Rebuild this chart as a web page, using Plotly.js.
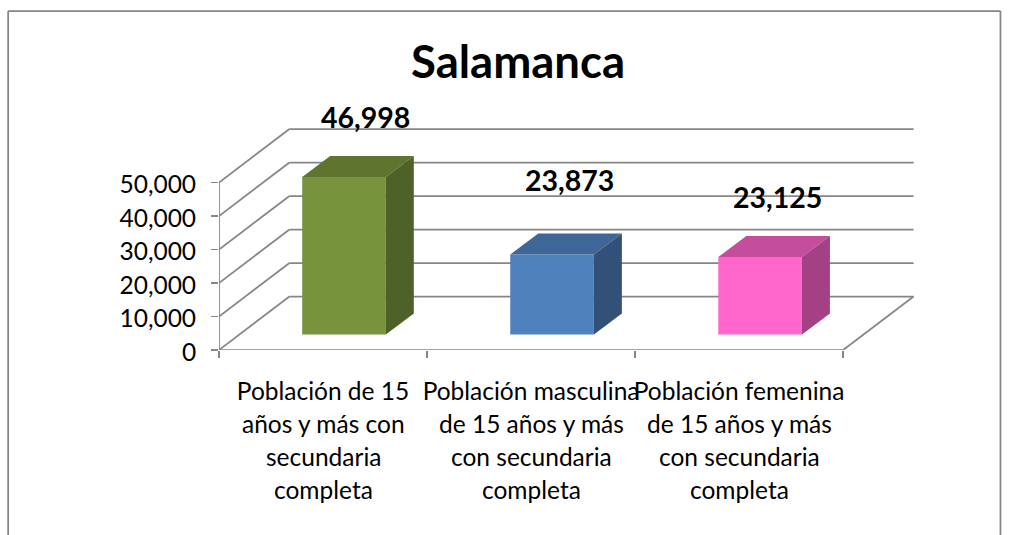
<!DOCTYPE html>
<html><head><meta charset="utf-8">
<script src="https://cdn.plot.ly/plotly-3.0.1.min.js"></script>
<style>html,body{margin:0;padding:0;background:#fff}#c{width:1013px;height:535px}</style>
</head><body><div id="c"></div>
<script>
const categoryLines = [
  ["Población de 15","años y más con","secundaria","completa"],
  ["Población masculina","de 15 años y más","con secundaria","completa"],
  ["Población femenina","de 15 años y más","con secundaria","completa"]
];
const values = [46998, 23873, 23125];
const valueLabels = ["46,998","23,873","23,125"];
const yTicks = [0,10000,20000,30000,40000,50000];
const yTickLabels = ["0","10,000","20,000","30,000","40,000","50,000"];
const frontColors = ["#77933C","#4F81BD","#FF66CC"];
const topColors = ["#5E742F","#3E6696","#C44E9C"];
const sideColors = ["#4E6126","#325078","#A44084"];

const W=1013,H=535, L=218.5,B=350, R=925,T=115;
const pxX=208.2, pxY=167.5/50000;
const X=p=>p/pxX, Y=p=>p/pxY;
const wallDX=X(70.5), wallDY=Y(53.5), depthDX=X(28), depthDY=Y(21);
const baseDX=X(21), baseDY=Y(15.5), barW=X(83.7);
const grey="#868686";
const seg=(x0,y0,x1,y1)=>({type:"line",layer:"below",xref:"x",yref:"y",x0,y0,x1,y1,line:{color:grey,width:1.75}});
const shapes=[];
yTicks.forEach(v=>{
  shapes.push(seg(0,v,wallDX,v+wallDY));
  shapes.push(seg(wallDX,v+wallDY,3+wallDX,v+wallDY));
});
shapes.push(seg(0,0,0,50000));
shapes.push(seg(0,0,3,0));
shapes.push(seg(3,0,3+wallDX,wallDY));
const px=p=>(p-L)/(R-L), py=p=>1-(p-T)/(B-T);
const frame=(a,b,c,d)=>({type:"line",xref:"paper",yref:"paper",x0:px(a),y0:py(b),x1:px(c),y1:py(d),line:{color:grey,width:1.75}});
shapes.push(frame(7.5,535,7.5,11),frame(7.5,11,1000.5,11),frame(1000.5,11,1000.5,535));

const centers=values.map((v,i)=>i+0.5+baseDX);
const traces=[{type:"bar",x:centers,y:values,base:baseDY,width:barW,marker:{color:frontColors,line:{width:0}},hoverinfo:"skip"}];
values.forEach((v,i)=>{
  const x0=centers[i]-barW/2,x1=centers[i]+barW/2,y0=baseDY,y1=baseDY+v;
  traces.push({type:"scatter",mode:"lines",fill:"toself",fillcolor:topColors[i],line:{width:0},hoverinfo:"skip",
    x:[x0,x1,x1+depthDX,x0+depthDX,x0],y:[y1,y1,y1+depthDY,y1+depthDY,y1]});
  traces.push({type:"scatter",mode:"lines",fill:"toself",fillcolor:sideColors[i],line:{width:0},hoverinfo:"skip",
    x:[x1,x1+depthDX,x1+depthDX,x1,x1],y:[y0,y0+depthDY,y1+depthDY,y1,y0]});
});

const FONT="Lato, 'Noto Sans', sans-serif";
const labelXShift=[21,17,17], labelYShift=[39,54,39];
const annotations=values.map((v,i)=>({xref:"x",yref:"y",x:centers[i],y:baseDY+v+depthDY,text:"<b>"+valueLabels[i]+"</b>",showarrow:false,
  font:{family:FONT,size:28.5,color:"#000"},xshift:labelXShift[i],yshift:labelYShift[i]}));
const lineY=[391,423,456,489];
categoryLines.forEach((ls,i)=>ls.slice(1).forEach((t,j)=>annotations.push({xref:"x",yref:"y",x:i+0.5,y:0,text:t,showarrow:false,
  font:{family:FONT,size:24.5,color:"#000"},yshift:B-lineY[j+1]})));

Plotly.newPlot("c",traces,{
  width:W,height:H,showlegend:false,paper_bgcolor:"#fff",plot_bgcolor:"rgba(0,0,0,0)",
  margin:{l:L,r:W-R,t:T,b:H-B,pad:0},
  title:{text:"<b>Salamanca</b>",font:{family:FONT,size:45.5,color:"#000"},x:518/W,xref:"container",xanchor:"center",y:1-62/H,yref:"container",yanchor:"middle"},
  xaxis:{range:[0,(R-L)/pxX],showgrid:false,zeroline:false,showline:false,tickmode:"array",
    tickvals:[0.5,1.5,2.5],ticktext:categoryLines.map(l=>l[0]),ticks:"",ticklen:0,ticklabelstandoff:24,tickangle:0,
    tickfont:{family:FONT,size:24.5,color:"#000"},
    minor:{tickmode:"array",tickvals:[0,1,2,3],ticks:"outside",ticklen:7,tickwidth:1.75,tickcolor:grey,showgrid:false}},
  yaxis:{range:[0,(B-T)/pxY],showgrid:false,zeroline:false,showline:false,tickmode:"array",tickvals:yTicks,ticktext:yTickLabels,
    ticks:"outside",ticklen:7,tickwidth:1.75,tickcolor:grey,ticklabelstandoff:10,ticklabelshift:2,tickfont:{family:FONT,size:24.5,color:"#000"}},
  shapes,annotations
},{displayModeBar:false,staticPlot:true});
</script></body></html>
